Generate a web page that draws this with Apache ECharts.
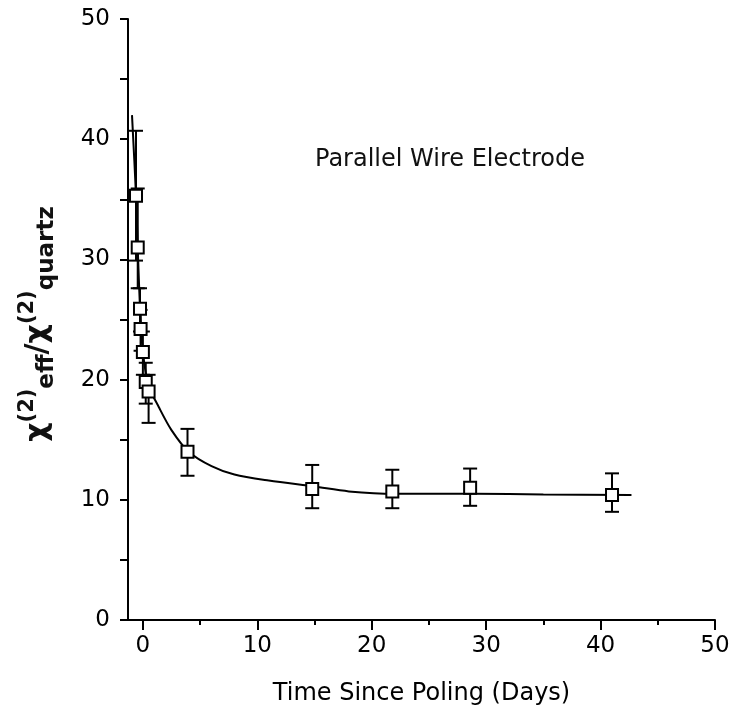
<!DOCTYPE html>
<html>
<head>
<meta charset="utf-8">
<script src="https://cdn.jsdelivr.net/npm/echarts@6/dist/echarts.min.js"></script>
<style>html,body{margin:0;padding:0;background:#fff;}#c{width:737px;height:714px;}</style>
</head>
<body>
<div id="c"></div>
<script>
// Data
const pointX   = [-0.6, -0.45, -0.25, -0.2, 0.0, 0.25, 0.5, 3.9, 14.8, 21.8, 28.6, 41.0];
const pointY   = [35.3, 31.0, 25.9, 24.2, 22.3, 19.8, 19.0, 14.0, 10.9, 10.7, 11.0, 10.4];
const errLow   = [29.9, 27.6, 24.0, 22.4, 20.4, 18.0, 16.4, 12.0, 9.3, 9.3, 9.5, 9.0];
const errHigh  = [40.7, 35.9, 27.6, 25.8, 24.0, 21.4, 20.4, 15.9, 12.9, 12.5, 12.6, 12.2];
const curveX   = [-0.95, -0.6, -0.45, -0.25, 0.0, 0.5, 1.4, 2.5, 4.0, 6.0, 8.0, 11.0, 15.0, 18.0, 22.0, 29.0, 35.0, 42.7];
const curveY   = [42.0, 35.3, 31.0, 26.0, 22.3, 19.5, 17.7, 15.8, 14.0, 12.8, 12.1, 11.6, 11.1, 10.7, 10.5, 10.5, 10.45, 10.4];
const xMajorTicks = [0, 10, 20, 30, 40, 50];
const xMinorTicks = [5, 15, 25, 35, 45];
const annotation = 'Parallel Wire Electrode';
const xTitle = 'Time Since Poling (Days)';
const yTitle = '{a|χ}{s|(2)}{b|eff}{a|/χ}{s|(2)}{b|quartz}';

const FONT = '"DejaVu Sans", "Liberation Sans", Arial, sans-serif';
const points = pointX.map((x, i) => [x, pointY[i]]);
const errs = pointX.map((x, i) => [x, errLow[i], errHigh[i]]);
const curve = curveX.map((x, i) => [x, curveY[i]]);

const chart = echarts.init(document.getElementById('c'), null, {renderer: 'canvas'});
chart.setOption({
  backgroundColor: '#fff',
  animation: false,
  grid: {left: 128, right: 22, top: 19, bottom: 94, containLabel: false},
  xAxis: [{
    type: 'value', min: -1.3, max: 50,
    name: xTitle, nameLocation: 'middle', nameGap: 62,
    nameTextStyle: {fontSize: 24, fontFamily: FONT, color: '#000'},
    axisLine: {show: true, lineStyle: {color: '#000', width: 2}},
    axisTick: {show: true, customValues: xMajorTicks, length: 10, lineStyle: {color: '#000', width: 2}},
    axisLabel: {show: true, customValues: xMajorTicks, fontSize: 23, fontFamily: FONT, color: '#000', margin: 15},
    splitLine: {show: false}
  }, {
    type: 'value', min: -1.3, max: 50, position: 'bottom',
    axisLine: {show: false},
    axisTick: {show: true, customValues: xMinorTicks, length: 5, lineStyle: {color: '#000', width: 2}},
    axisLabel: {show: false},
    splitLine: {show: false}
  }],
  yAxis: {
    type: 'value', min: 0, max: 50, interval: 10,
    axisLine: {show: true, onZero: false, lineStyle: {color: '#000', width: 2}},
    axisTick: {show: true, length: 8, lineStyle: {color: '#000', width: 2}},
    minorTick: {show: true, splitNumber: 2, length: 8, lineStyle: {color: '#000', width: 2}},
    axisLabel: {fontSize: 23, fontFamily: FONT, color: '#000', margin: 18},
    splitLine: {show: false},
    minorSplitLine: {show: false}
  },
  graphic: [{
    type: 'text', left: 315, top: 148,
    style: {text: annotation, fontSize: 24, fontFamily: FONT, fill: '#111'}
  }, {
    type: 'text', x: 38, y: 324, rotation: Math.PI / 2,
    style: {
      text: yTitle, align: 'center', verticalAlign: 'middle', fill: '#111',
      rich: {
        a: {fontSize: 30, fontWeight: 'bold', fontFamily: FONT, fill: '#111', lineHeight: 42},
        s: {fontSize: 21, fontWeight: 'bold', fontFamily: FONT, fill: '#111', verticalAlign: 'top'},
        b: {fontSize: 23, fontWeight: 'bold', fontFamily: FONT, fill: '#111', verticalAlign: 'bottom'}
      }
    }
  }],
  series: [{
    type: 'line', data: curve, showSymbol: false, smooth: 0.3,
    lineStyle: {color: '#000', width: 2}, z: 2
  }, {
    type: 'custom', data: errs, z: 3,
    renderItem: function (params, api) {
      const x = api.value(0);
      const lo = api.coord([x, api.value(1)]);
      const hi = api.coord([x, api.value(2)]);
      const w = 7;
      const st = {stroke: '#000', lineWidth: 2};
      return {type: 'group', children: [
        {type: 'line', shape: {x1: lo[0], y1: lo[1], x2: hi[0], y2: hi[1]}, style: st},
        {type: 'line', shape: {x1: hi[0] - w, y1: hi[1], x2: hi[0] + w, y2: hi[1]}, style: st},
        {type: 'line', shape: {x1: lo[0] - w, y1: lo[1], x2: lo[0] + w, y2: lo[1]}, style: st}
      ]};
    }
  }, {
    type: 'scatter', data: points, symbol: 'rect', symbolSize: 12, z: 4,
    itemStyle: {color: '#fff', borderColor: '#000', borderWidth: 2, opacity: 1}
  }]
});
</script>
</body>
</html>
